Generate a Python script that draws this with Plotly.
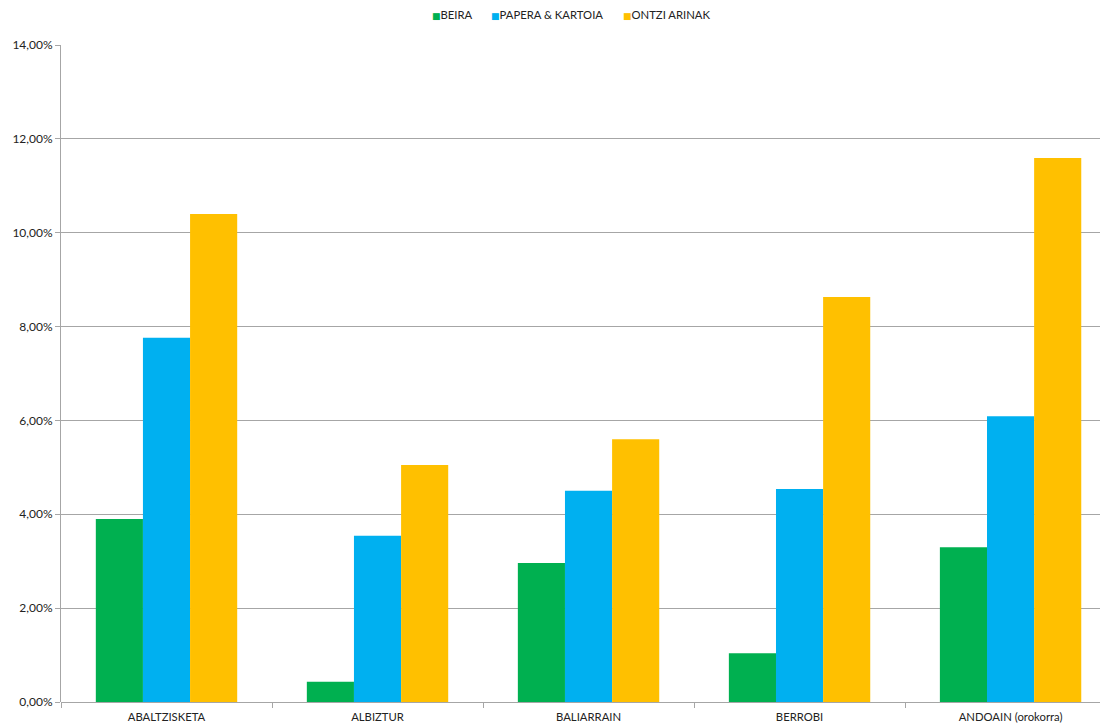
import plotly.graph_objects as go

categories = ["ABALTZISKETA", "ALBIZTUR", "BALIARRAIN", "BERROBI", "ANDOAIN (orokorra)"]
series_names = ["BEIRA", "PAPERA & KARTOIA", "ONTZI ARINAK"]
beira = [3.90, 0.43, 2.96, 1.04, 3.30]
papera = [7.76, 3.54, 4.50, 4.54, 6.09]
ontzi = [10.40, 5.05, 5.60, 8.63, 11.59]
colors = ["#00B050", "#00B0F0", "#FFC000"]
y_ticks = [0, 2, 4, 6, 8, 10, 12, 14]
y_tick_labels = ["0,00%", "2,00%", "4,00%", "6,00%", "8,00%", "10,00%", "12,00%", "14,00%"]
legend_x = [0.3530, 0.4095, 0.5350]

fig = go.Figure()
for name, vals, col in zip(series_names, [beira, papera, ontzi], colors):
    fig.add_bar(name=name, x=categories, y=vals, marker_color=col,
                marker_line_width=0, showlegend=False)

for name, col, lx in zip(series_names, colors, legend_x):
    fig.add_annotation(
        x=lx, y=1.0457, xref="paper", yref="paper", xanchor="left", yanchor="middle",
        showarrow=False,
        text=f"<span style='color:{col};font-family:DejaVu Sans;font-size:9px'>■</span>"
             + name.replace("&", "&amp;"),
        font=dict(family="Lato", size=11.3, color="#222"),
    )

fig.update_layout(
    width=1100, height=716,
    margin=dict(l=53, r=1, t=37, b=22, autoexpand=False),
    paper_bgcolor="white", plot_bgcolor="white",
    barmode="group", bargap=0.33, bargroupgap=0,
    font=dict(family="Lato", size=12, color="#222"),
    showlegend=False,
)
fig.update_xaxes(
    range=[-0.5, 4.457], showgrid=False, showline=False,
    ticks="outside", tickson="boundaries", ticklen=5, tickcolor="#a6a6a6",
    tickfont=dict(size=11.3, color="#222"), tickangle=0, automargin=False,
    ticklabelstandoff=7,
)
fig.update_yaxes(
    range=[0, 14], tickvals=y_ticks, ticktext=y_tick_labels,
    showgrid=True, gridcolor="#a6a6a6", gridwidth=1,
    showline=True, linecolor="#a6a6a6", linewidth=1,
    ticks="outside", ticklen=5, tickcolor="#a6a6a6",
    zeroline=True, zerolinecolor="#a6a6a6", zerolinewidth=1,
    tickfont=dict(size=12, color="#222"), automargin=False,
)
fig.write_html("out.html")
